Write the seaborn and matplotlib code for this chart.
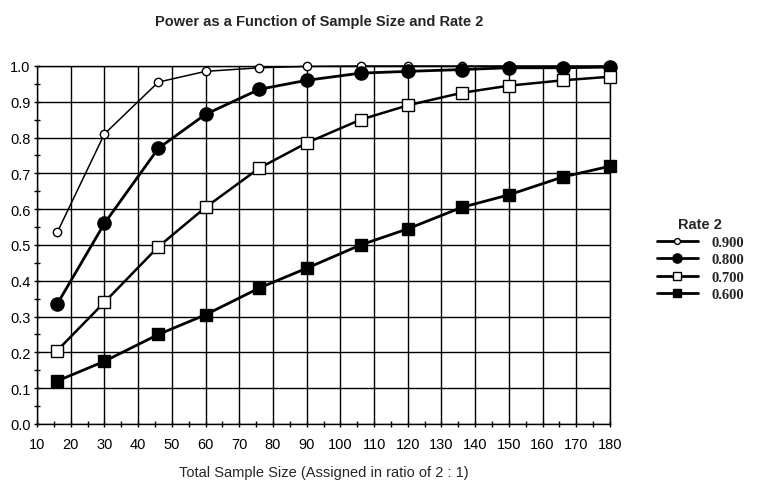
import matplotlib
matplotlib.use('Agg')
import matplotlib.pyplot as plt
import seaborn as sns
import pandas as pd
from matplotlib.ticker import MultipleLocator
from matplotlib.lines import Line2D

# Dados
tamanho = [16, 30, 46, 60, 76, 90, 106, 120, 136, 150, 166, 180]
poder_090 = [0.535, 0.81, 0.955, 0.985, 0.995, 0.999, 1.0, 1.0, 1.0, 1.0, 1.0, 1.0]
poder_080 = [0.335, 0.56, 0.77, 0.865, 0.935, 0.96, 0.98, 0.985, 0.99, 0.995, 0.995, 0.997]
poder_070 = [0.205, 0.34, 0.495, 0.605, 0.715, 0.785, 0.85, 0.89, 0.925, 0.945, 0.96, 0.97]
poder_060 = [0.12, 0.175, 0.25, 0.305, 0.38, 0.435, 0.50, 0.545, 0.605, 0.64, 0.69, 0.72]
rotulos = ['0.900', '0.800', '0.700', '0.600']
x_ticks = list(range(10, 181, 10))
y_ticks = [i / 10 for i in range(11)]

sns.set_style('white')
plt.rcParams['font.family'] = ['Liberation Sans Narrow', 'Liberation Sans', 'DejaVu Sans']

fig = plt.figure(figsize=(7.61, 4.89), dpi=100)
ax = fig.add_axes([0.0486, 0.131, 0.753, 0.732])

estilos = [
    dict(marker='o', mfc='white', ms=6, lw=1.1),
    dict(marker='o', mfc='black', ms=9.5, lw=2.0),
    dict(marker='s', mfc='white', ms=8, lw=1.8),
    dict(marker='s', mfc='black', ms=8.5, lw=2.0),
]
series = [poder_090, poder_080, poder_070, poder_060]

for vals, est, rot in zip(series, estilos, rotulos):
    df = pd.DataFrame({'x': tamanho, 'y': vals})
    sns.lineplot(data=df, x='x', y='y', ax=ax, color='black', marker=est['marker'],
                 markersize=est['ms'], markerfacecolor=est['mfc'], markeredgecolor='black',
                 markeredgewidth=1.0, linewidth=est['lw'], zorder=3, clip_on=False)

ax.set_xlim(10, 180)
ax.set_ylim(0, 1.0)
ax.set_xticks(x_ticks)
ax.set_yticks(y_ticks)
ax.set_yticklabels([f'{v:.1f}' for v in y_ticks])
ax.xaxis.set_minor_locator(MultipleLocator(5))
ax.yaxis.set_minor_locator(MultipleLocator(0.05))
ax.grid(True, which='major', color='black', linewidth=1.0)
ax.tick_params(which='both', direction='inout', length=5, width=1, colors='black',
               labelsize=10.5, bottom=True, left=True)
ax.tick_params(axis='x', pad=7)
ax.tick_params(axis='y', pad=2)
for s in ax.spines.values():
    s.set_color('black')
    s.set_linewidth(1.0)

ax.set_xlabel('Total Sample Size (Assigned in ratio of 2 : 1)', fontsize=10.5, labelpad=10)
ax.set_ylabel('')
fig.text(0.42, 0.955, 'Power as a Function of Sample Size and Rate 2', ha='center',
         va='center', fontsize=10.5, fontweight='bold')

handles = [Line2D([], [], color='black', marker=est['marker'], markersize=est['ms'] * 0.7,
                  markerfacecolor=est['mfc'], markeredgecolor='black', linewidth=2.0)
           for est in estilos]
leg = fig.legend(handles, rotulos, title='Rate 2', loc='upper left',
                 bbox_to_anchor=(0.85, 0.575), frameon=False, handlelength=2.8,
                 labelspacing=0.3, handletextpad=0.9, borderpad=0.2,
                 prop={'family': 'Liberation Serif', 'weight': 'bold', 'size': 10.5})
leg.get_title().set_fontweight('bold')
leg.get_title().set_fontsize(10.5)

fig.savefig('out.png', dpi=100)
